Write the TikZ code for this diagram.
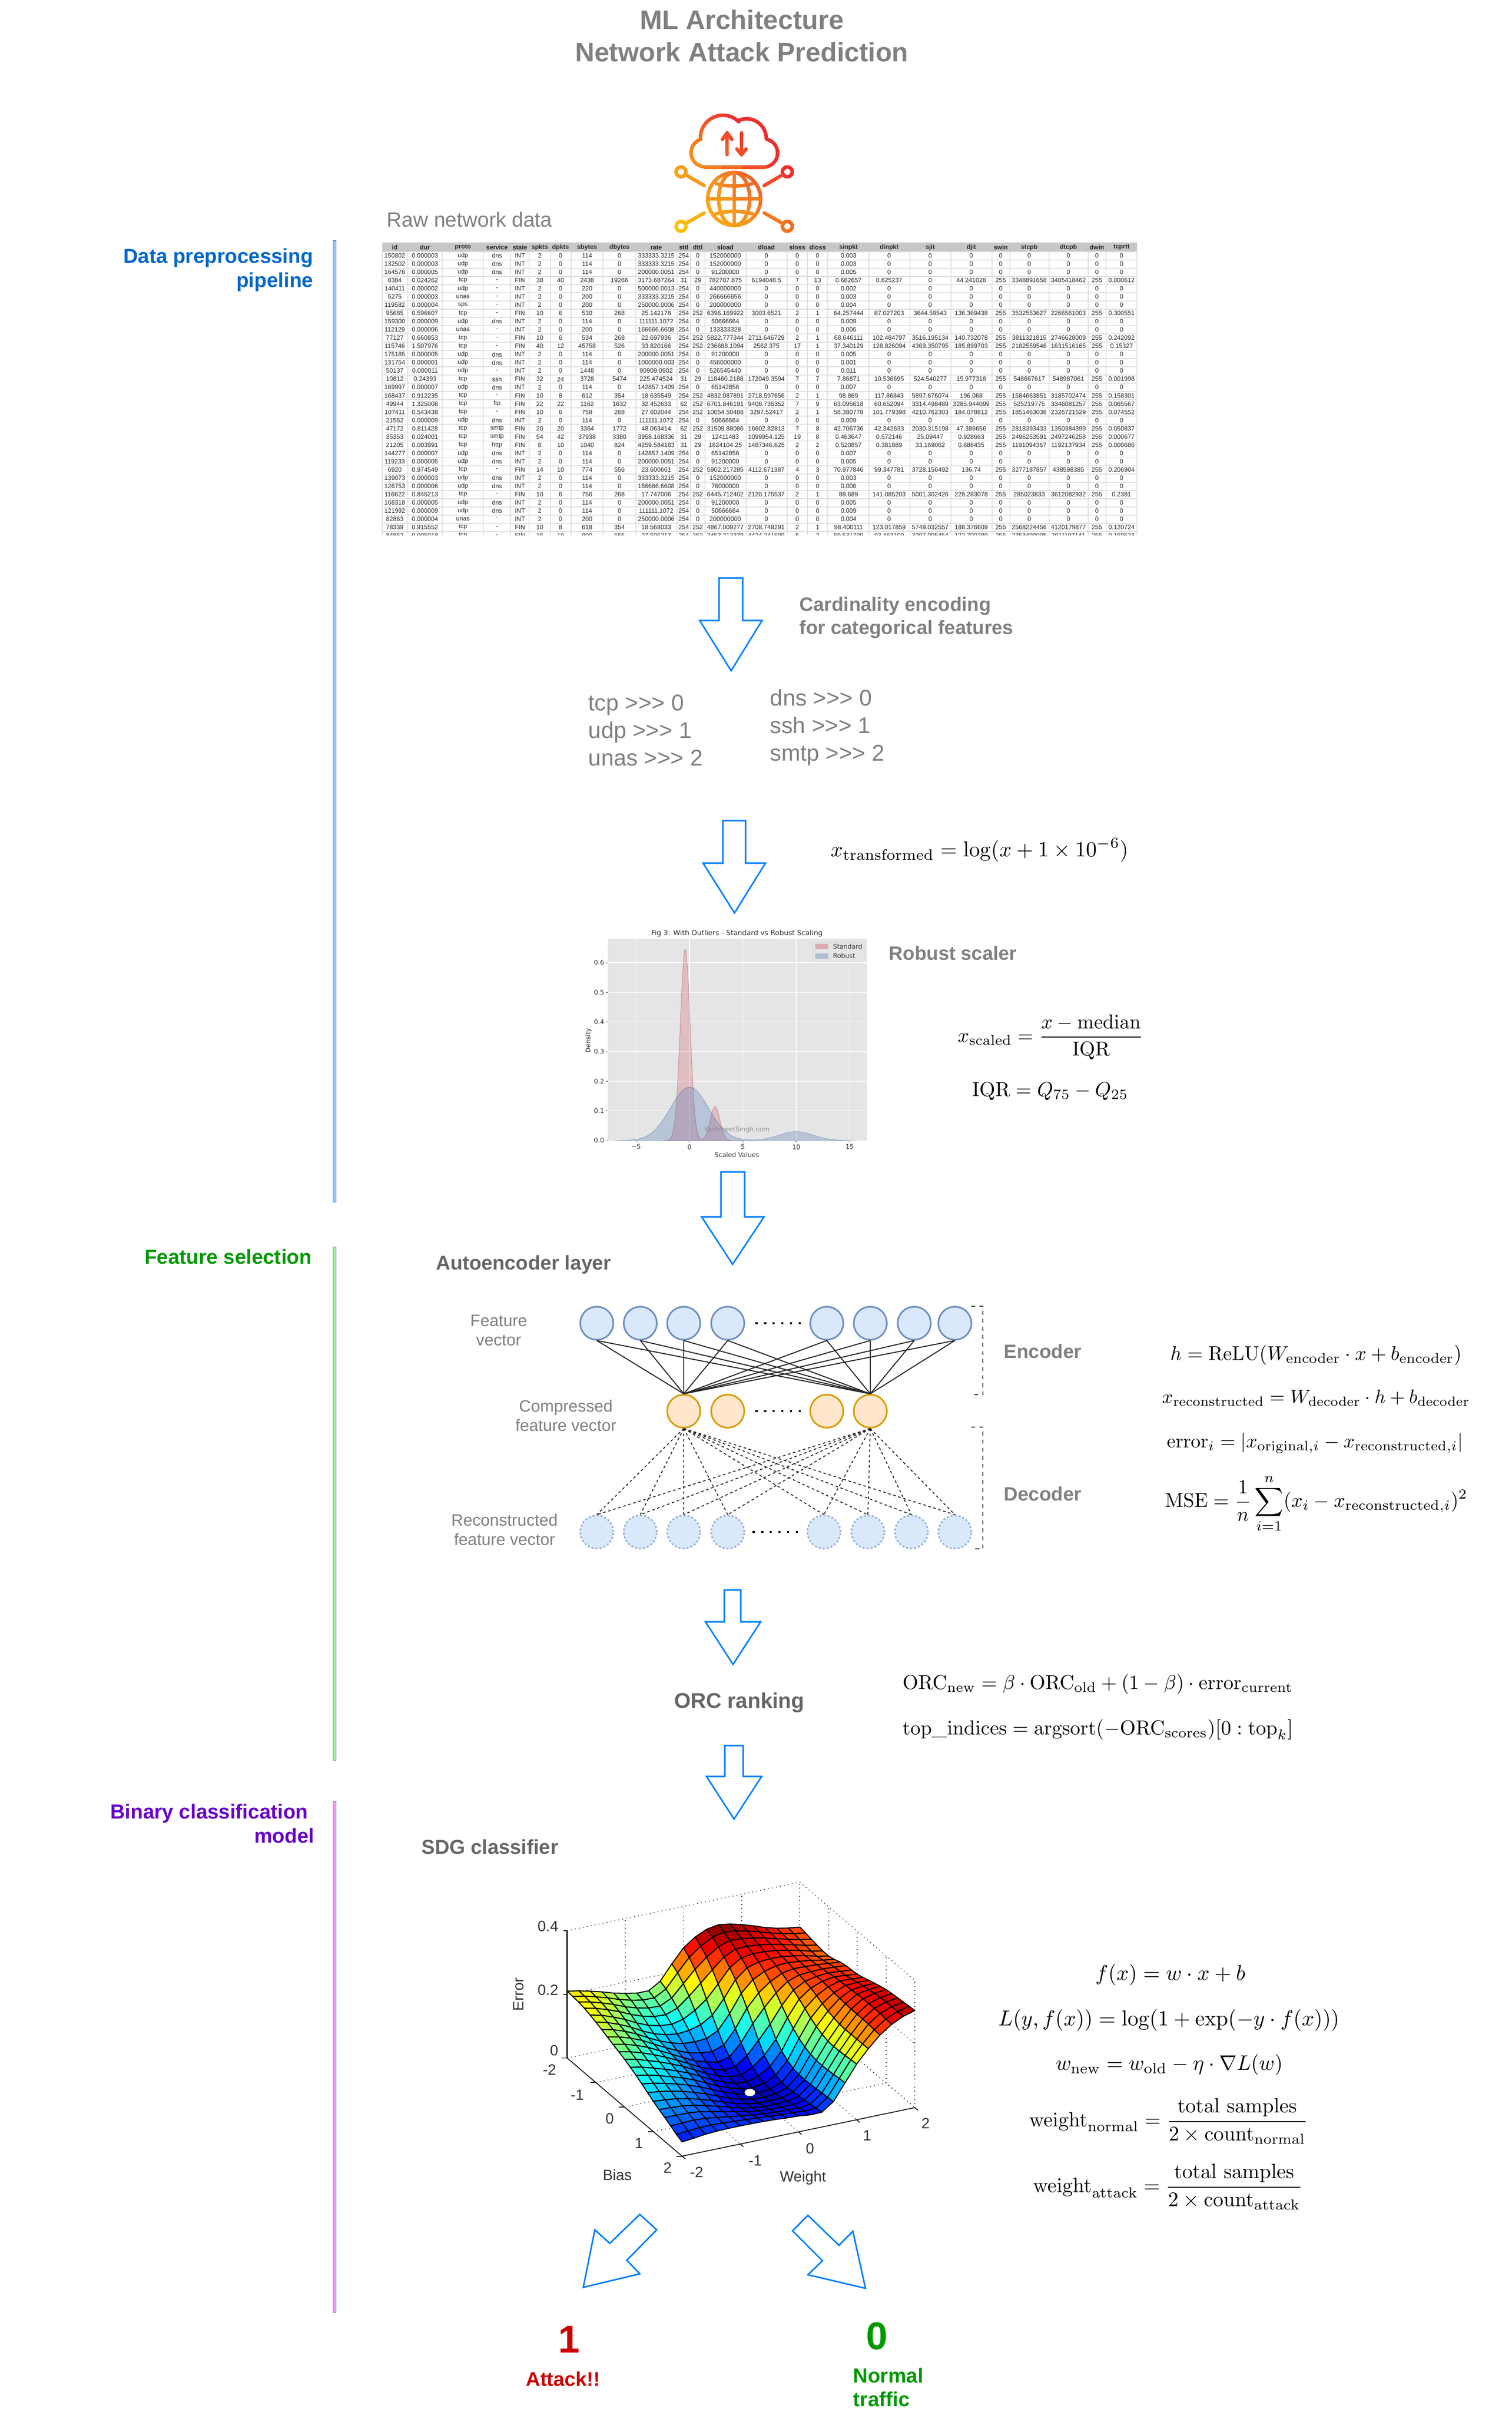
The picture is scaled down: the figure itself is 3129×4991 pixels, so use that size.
\documentclass[tikz,border=0pt]{standalone}
\usepackage[no-math]{fontspec}
\usepackage{amsmath}
\usepackage{graphicx}
\usetikzlibrary{calc}
\newfontfamily\lib{Liberation Sans}
\newfontfamily\djv{DejaVu Sans}
\definecolor{txtgray}{HTML}{808080}
\definecolor{txtdark}{HTML}{666666}
\definecolor{arrowblue}{HTML}{007FFF}
\definecolor{lblblue}{HTML}{0066CC}
\definecolor{lblgreen}{HTML}{009900}
\definecolor{lblpurple}{HTML}{6600CC}
\definecolor{lblred}{HTML}{CC0000}
\definecolor{nodeblue}{HTML}{DAE8FC}
\definecolor{edgeblue}{HTML}{6C8EBF}
\definecolor{nodeorange}{HTML}{FFE6CC}
\definecolor{edgeorange}{HTML}{D79B00}
\definecolor{plotbg}{HTML}{E5E5E5}
\definecolor{stdred}{rgb}{.8,.35,.4}
\definecolor{robblue}{rgb}{.2,.4,.7}
\definecolor{barblue}{HTML}{99CCFF}
\definecolor{bargreen}{HTML}{99FF99}
\definecolor{barpink}{HTML}{FF99FF}
\newcommand{\fm}[2]{\resizebox{\dimexpr#1pt*24/100\relax}{!}{$\displaystyle #2$}}
\tikzset{
  blockarrow/.style={draw=arrowblue,fill=white,line width=.75pt,line join=miter},
  formula/.style={anchor=west,inner sep=0pt,text=black},
  bold40/.style={inner sep=0pt,text=txtgray,font={\lib\bfseries\fontsize{9.6}{11.6}\selectfont}},
  darkhead/.style={inner sep=0pt,text=txtdark,font={\lib\bfseries\fontsize{9.9}{12}\selectfont}},
  plain47/.style={inner sep=0pt,anchor=west,text=txtgray,font={\lib\fontsize{11.3}{13.7}\selectfont}},
  small34/.style={inner sep=0pt,align=center,text=txtgray,font={\lib\fontsize{8.2}{9.6}\selectfont}},
  sidelabel/.style={inner sep=0pt,anchor=east,align=right,font={\lib\bfseries\fontsize{10.1}{12}\selectfont}},
  bar/.style={draw=edgeblue,line width=.25pt},
  neuron/.style={circle,inner sep=0pt,minimum size=16.4pt,line width=.8pt},
  ntop/.style={neuron,draw=edgeblue,fill=nodeblue},
  nmid/.style={neuron,draw=edgeorange,fill=nodeorange},
  nbot/.style={neuron,draw=edgeblue!70,fill=nodeblue,dash pattern=on 1pt off 1pt},
  enc/.style={draw=black!85,line width=.5pt},
  dec/.style={draw=black!85,line width=.45pt,dash pattern=on 1.3pt off 1.3pt},
  dotrow/.style={draw=black,line width=1.1pt,dash pattern=on 1.1pt off 3.2pt},
  brk/.style={draw=black!80,line width=.45pt,dash pattern=on 2pt off 2pt},
  cell/.style={inner sep=0pt,text=black!85,font={\lib\fontsize{3.12}{3.6}\selectfont}},
  cellh/.style={inner sep=0pt,text=black!85,font={\lib\bfseries\fontsize{3.12}{3.6}\selectfont}},
  icon/.style={line width=1.76pt,line cap=round},
  ticklab/.style={inner sep=0pt,text=black!80,font={\djv\fontsize{3.2}{3.8}\selectfont}},
  surflab/.style={inner sep=0pt,text=black!80,font={\lib\fontsize{7.4}{9}\selectfont}},
  griddot/.style={draw=black!80,line width=.4pt,dash pattern=on .4pt off 1.6pt},
  axisline/.style={draw=black!90,line width=.45pt},
}
% ---- gradient icon helpers
\newcommand{\gradseg}[4]{%
  \pgfmathsetmacro{\gs}{max(0,min(1,(0.5*(#1+#3)-0.5*(#2+#4)+328)/1001))}%
  \pgfmathsetmacro{\gr}{0.99-0.06*\gs}%
  \pgfmathsetmacro{\gg}{\gs<0.5?0.76-0.4*\gs:0.56-0.76*(\gs-0.5)}%
  \pgfmathsetmacro{\gb}{0.05+0.14*\gs}%
  \definecolor{gc}{rgb}{\gr,\gg,\gb}%
  \draw[icon,draw=gc] (#1,#2) -- (#3,#4);}
\newcommand{\gradarc}[7]{%
  \foreach \kq in {1,...,#7}{%
    \pgfmathsetmacro{\ta}{#5+(#6-(#5))*(\kq-1)/#7}%
    \pgfmathsetmacro{\tb}{#5+(#6-(#5))*\kq/#7}%
    \pgfmathsetmacro{\xa}{#1+#3*cos(\ta)}%
    \pgfmathsetmacro{\ya}{#2-#4*sin(\ta)}%
    \pgfmathsetmacro{\xb}{#1+#3*cos(\tb)}%
    \pgfmathsetmacro{\yb}{#2-#4*sin(\tb)}%
    \gradseg{\xa}{\ya}{\xb}{\yb}}}
\begin{document}
\begin{tikzpicture}[x=.24pt,y=-.24pt]
\useasboundingbox (0,0) rectangle (3129,4991);
\fill[white] (0,0) rectangle (3129,4991);

% title
\node[inner sep=0pt,align=center,text=txtgray,font={\lib\bfseries\fontsize{13.3}{16.1}\selectfont}] (title) at (1535,74) {ML Architecture\\Network Attack Prediction};

% side bars
\draw[bar,fill=barblue] (689.5,498) rectangle (695.5,2487);
\draw[bar,fill=bargreen] (689.5,2580) rectangle (695.5,3642);
\draw[bar,fill=barpink] (689.5,3727) rectangle (695.5,4785);
\node[sidelabel,text=lblblue] (lab1) at (649,559) {Data preprocessing\\pipeline};
\node[sidelabel,text=lblgreen] (lab2) at (646,2600) {Feature selection};
\node[sidelabel,text=lblpurple] (lab3) at (651,3773) {Binary classification\hspace*{3pt}\\model};

% icon
\begin{scope}[shift={(1250,200)},xscale=.33333,yscale=.33333]
\gradarc{990}{350}{88}{88}{-90}{77}{12}
\gradarc{885}{259}{122}{122}{0}{113}{10}
\gradarc{738}{255}{140}{140}{45}{184}{12}
\gradarc{628}{348}{88}{88}{108}{270}{12}
\gradseg{625}{438}{740}{438}\gradseg{740}{438}{870}{438}\gradseg{870}{438}{990}{438}
\gradseg{764}{360}{764}{290}\gradseg{764}{290}{764}{225}\gradseg{735}{265}{764}{225}\gradseg{793}{265}{764}{225}
\gradseg{853}{225}{853}{290}\gradseg{853}{290}{853}{360}\gradseg{825}{325}{853}{360}\gradseg{882}{325}{853}{360}
\gradarc{808}{635}{165}{165}{0}{360}{28}
\gradarc{808}{635}{97}{165}{0}{360}{24}
\gradseg{808}{470}{808}{635}\gradseg{808}{635}{808}{800}
\gradseg{643}{635}{808}{635}\gradseg{808}{635}{973}{635}
\gradarc{808}{122}{433}{433}{255}{285}{8}
\gradarc{808}{1145}{433}{433}{75}{105}{8}
\gradarc{478}{467}{31}{31}{0}{360}{12}
\gradarc{1138}{467}{31}{31}{0}{360}{12}
\gradarc{478}{805}{31}{31}{0}{360}{12}
\gradarc{1138}{805}{31}{31}{0}{360}{12}
\gradseg{515}{490}{622}{552}
\gradseg{1100}{490}{995}{552}
\gradseg{515}{782}{622}{722}
\gradseg{1100}{782}{995}{722}
\end{scope}

\node[plain47,font={\lib\fontsize{10.25}{13}\selectfont}] (rawlab) at (800,454) {Raw network data};

% table
\fill[black!22] (791,502) rectangle (2353,520);
\draw[black!35,line width=.4pt] (791,502.5) -- (2353,502.5);
\foreach \rr in {0,...,34}{
  \draw[black!12,line width=.45pt] (791,{520.8+17.03*\rr}) -- (2353,{520.8+17.03*\rr});
}
\foreach \vv in {791,844,915,1000,1057,1095,1139,1182,1248,1316,1401,1429,1459,1544,1629,1671,1713,1798,1883,1968,2053,2090,2171,2252,2289,2353}{
  \draw[black!12,line width=.3pt] (\vv,520) -- (\vv,1107);
}
\foreach \vv [count=\cc] in {817,879.5,958,1028.5,1076,1117,1160,1215,1282,1358,1415,1444,1501,1586,1650,1692,1756,1840,1925,2010,2071,2130,2211,2270,2321}{
  \expandafter\xdef\csname cx\cc\endcsname{\vv}
}
\foreach \hh [count=\cc] in {id,dur,proto,service,state,spkts,dpkts,sbytes,dbytes,rate,sttl,dttl,sload,dload,sloss,dloss,sinpkt,dinpkt,sjit,djit,swin,stcpb,dtcpb,dwin,tcprtt}{
  \node[cellh] (th\cc) at (\csname cx\cc\endcsname,512) {\hh};
}
\begin{scope}
\clip (785,495) rectangle (2360,1107);
\foreach \row [count=\rr] in {%
{150802,0.000003,udp,dns,INT,2,0,114,0,333333.3215,254,0,152000000,0,0,0,0.003,0,0,0,0,0,0,0,0},
{132502,0.000003,udp,dns,INT,2,0,114,0,333333.3215,254,0,152000000,0,0,0,0.003,0,0,0,0,0,0,0,0},
{164576,0.000005,udp,dns,INT,2,0,114,0,200000.0051,254,0,91200000,0,0,0,0.005,0,0,0,0,0,0,0,0},
{8384,0.024262,tcp,-,FIN,38,40,2438,19266,3173.687264,31,29,782787.875,6194048.5,7,13,0.682657,0.625237,0,44.241028,255,3348891658,3405418462,255,0.000612},
{140411,0.000002,udp,-,INT,2,0,220,0,500000.0013,254,0,440000000,0,0,0,0.002,0,0,0,0,0,0,0,0},
{5275,0.000003,unas,-,INT,2,0,200,0,333333.3215,254,0,266666656,0,0,0,0.003,0,0,0,0,0,0,0,0},
{119582,0.000004,sps,-,INT,2,0,200,0,250000.0006,254,0,200000000,0,0,0,0.004,0,0,0,0,0,0,0,0},
{95685,0.596607,tcp,-,FIN,10,6,530,268,25.142178,254,252,6396.169922,3003.6521,2,1,64.257444,87.027203,3644.59543,136.369438,255,3532553627,2266561003,255,0.300551},
{159300,0.000009,udp,dns,INT,2,0,114,0,111111.1072,254,0,50666664,0,0,0,0.009,0,0,0,0,0,0,0,0},
{112129,0.000006,unas,-,INT,2,0,200,0,166666.6608,254,0,133333328,0,0,0,0.006,0,0,0,0,0,0,0,0},
{77127,0.660853,tcp,-,FIN,10,6,534,268,22.697936,254,252,5822.777344,2711.646729,2,1,68.646111,102.484797,3516.195134,140.732078,255,3811321815,2746628009,255,0.242092},
{115746,1.507976,tcp,-,FIN,40,12,45758,526,33.820166,254,252,236688.1094,2562.375,17,1,37.340129,128.826094,4369.350795,185.899703,255,2182559546,1631516165,255,0.15327},
{175185,0.000005,udp,dns,INT,2,0,114,0,200000.0051,254,0,91200000,0,0,0,0.005,0,0,0,0,0,0,0,0},
{131754,0.000001,udp,dns,INT,2,0,114,0,1000000.003,254,0,456000000,0,0,0,0.001,0,0,0,0,0,0,0,0},
{50137,0.000011,udp,-,INT,2,0,1448,0,90909.0902,254,0,526545440,0,0,0,0.011,0,0,0,0,0,0,0,0},
{10812,0.24393,tcp,ssh,FIN,32,24,3728,5474,225.474524,31,29,118460.2188,172049.3594,7,7,7.86871,10.536695,524.540277,15.977318,255,548667617,548987061,255,0.001998},
{169997,0.000007,udp,dns,INT,2,0,114,0,142857.1409,254,0,65142856,0,0,0,0.007,0,0,0,0,0,0,0,0},
{168437,0.912235,tcp,-,FIN,10,8,612,354,18.635549,254,252,4832.087891,2718.597656,2,1,98.869,117.86843,5897.676074,196.068,255,1584663851,3185702474,255,0.158301},
{49944,1.325008,tcp,ftp,FIN,22,22,1162,1632,32.452633,62,252,6701.846191,9406.735352,7,9,63.095618,60.652094,3314.498489,3285.944099,255,525219775,3346081257,255,0.065567},
{107411,0.543438,tcp,-,FIN,10,6,758,268,27.602044,254,252,10054.50488,3297.52417,2,1,58.380778,101.779398,4210.762303,184.078812,255,1851463036,2326721529,255,0.074552},
{21562,0.000009,udp,dns,INT,2,0,114,0,111111.1072,254,0,50666664,0,0,0,0.009,0,0,0,0,0,0,0,0},
{47172,0.811428,tcp,smtp,FIN,20,20,3364,1772,48.063414,62,252,31509.88086,16602.82813,7,8,42.706736,42.342633,2030.315198,47.386656,255,2818393433,1350384399,255,0.050837},
{35353,0.024001,tcp,smtp,FIN,54,42,37938,3380,3958.168336,31,29,12411483,1099954.125,19,8,0.463647,0.572146,25.09447,0.928663,255,2496253591,2497246258,255,0.000677},
{21205,0.003991,tcp,http,FIN,8,10,1040,824,4259.584183,31,29,1824104.25,1487346.625,2,2,0.520857,0.381889,33.169062,0.686435,255,1191094367,1192137934,255,0.000686},
{144277,0.000007,udp,dns,INT,2,0,114,0,142857.1409,254,0,65142856,0,0,0,0.007,0,0,0,0,0,0,0,0},
{119233,0.000005,udp,dns,INT,2,0,114,0,200000.0051,254,0,91200000,0,0,0,0.005,0,0,0,0,0,0,0,0},
{6920,0.974549,tcp,-,FIN,14,10,774,556,23.600661,254,252,5902.217285,4112.671387,4,3,70.977846,99.347781,3728.156492,136.74,255,3277187857,438598385,255,0.206904},
{139073,0.000003,udp,dns,INT,2,0,114,0,333333.3215,254,0,152000000,0,0,0,0.003,0,0,0,0,0,0,0,0},
{126753,0.000006,udp,dns,INT,2,0,114,0,166666.6608,254,0,76000000,0,0,0,0.006,0,0,0,0,0,0,0,0},
{116622,0.845213,tcp,-,FIN,10,6,756,268,17.747006,254,252,6445.712402,2120.175537,2,1,89.689,141.085203,5001.302426,228.283078,255,285023833,3612082932,255,0.2381},
{168318,0.000005,udp,dns,INT,2,0,114,0,200000.0051,254,0,91200000,0,0,0,0.005,0,0,0,0,0,0,0,0},
{121992,0.000009,udp,dns,INT,2,0,114,0,111111.1072,254,0,50666664,0,0,0,0.009,0,0,0,0,0,0,0,0},
{82863,0.000004,unas,-,INT,2,0,200,0,250000.0006,254,0,200000000,0,0,0,0.004,0,0,0,0,0,0,0,0},
{78339,0.915552,tcp,-,FIN,10,8,618,354,18.568033,254,252,4867.009277,2708.748291,2,1,98.400111,123.017859,5749.032557,188.376609,255,2568224456,4120179877,255,0.120724},
{84852,0.005018,tcp,-,FIN,16,10,900,556,27.506217,254,252,7453.212379,4424.241699,5,2,59.531799,93.463109,3207.005454,122.700289,255,2353490095,2011197141,255,0.159523}}{%
  \pgfmathsetmacro{\ry}{512+17.03*\rr}
  \foreach \val [count=\cc] in \row {
    \node[cell] (td\rr-\cc) at (\csname cx\cc\endcsname,\ry) {\val};
  }
}
\end{scope}

% block arrows
\draw[blockarrow] (1488,1196) -- (1537,1196) -- (1537,1284) -- (1577,1284) -- (1513,1388) -- (1448,1284) -- (1488,1284) -- cycle;
\draw[blockarrow] (1496,1698) -- (1543,1698) -- (1543,1786) -- (1584,1786) -- (1520,1889) -- (1455,1786) -- (1496,1786) -- cycle;
\draw[blockarrow] (1492,2425) -- (1541,2425) -- (1541,2518) -- (1581,2518) -- (1516,2616) -- (1452,2518) -- (1492,2518) -- cycle;
\draw[blockarrow] (1499,3290) -- (1533,3290) -- (1533,3356) -- (1574,3356) -- (1517,3444) -- (1460,3356) -- (1499,3356) -- cycle;
\draw[blockarrow] (1500,3612) -- (1538,3612) -- (1538,3676) -- (1576,3676) -- (1519,3764) -- (1462,3676) -- (1500,3676) -- cycle;
\draw[blockarrow] (1207,4733) -- (1231,4614) -- (1262,4642) -- (1324,4582) -- (1359,4614) -- (1297,4677) -- (1324,4705) -- cycle;
\draw[blockarrow] (1791,4735) -- (1672,4707) -- (1702,4678) -- (1640,4616) -- (1672,4584) -- (1736,4646) -- (1765,4617) -- cycle;

% encoding text
\node[bold40,anchor=west,align=left] (card) at (1654,1278) {Cardinality encoding\\for categorical features};
\node[plain47,align=left] (enc1) at (1217,1511) {tcp >>> 0\\udp >>> 1\\unas >>> 2};
\node[plain47,align=left] (enc2) at (1593,1505) {dns >>> 0\\ssh >>> 1\\smtp >>> 2};
\node[formula] (f1) at (1718,1759) {\fm{616}{x_{\mathrm{transformed}} = \log(x + 1 \times 10^{-6})}};

% density plot
\begin{scope}[shift={(1426.8,2360)},xscale=22.1,yscale=-613.5]
\fill[plotbg] (-7.64,0) rectangle (16.6,.68);
\foreach \vv in {-5,0,5,10,15}{\draw[white,line width=.35pt] (\vv,0) -- (\vv,.68);
  \draw[black!70,line width=.2pt] (\vv,0) -- ++(0,-.006);}
\foreach \vv in {0.1,0.2,0.3,0.4,0.5,0.6}{\draw[white,line width=.35pt] (-7.64,\vv) -- (16.6,\vv);
  \draw[black!70,line width=.2pt] (-7.64,\vv) -- ++(-.2,0);}
\draw[black!70,line width=.2pt] (-7.64,0) -- ++(-.2,0);
\filldraw[fill=stdred,fill opacity=.28,draw=stdred!85!black,draw opacity=.6,line width=.2pt] plot[domain=-2.5:5,samples=140,variable=\xx] (\xx,{.645*exp(-min(14,(\xx+.4)^2/.42))+.115*exp(-min(14,(\xx-2.4)^2/.4))}) -- cycle;
\filldraw[fill=robblue,fill opacity=.25,draw=robblue!85!black,draw opacity=.5,line width=.2pt] plot[domain=-7:15.5,samples=160,variable=\xx] (\xx,{.18*exp(-min(14,\xx*\xx/6.48))+.03*exp(-min(14,(\xx-10)^2/5))}) -- cycle;
\foreach \vv/\lbl in {-5/−5,0/0,5/5,10/10,15/15}{\node[ticklab,anchor=north] (xt\vv) at (\vv,-.012) {\lbl};}
\foreach \vv in {0.0,0.1,0.2,0.3,0.4,0.5,0.6}{\node[ticklab,anchor=east] (yt\vv) at (-7.95,\vv) {\vv};}
\end{scope}
\node[ticklab,font={\djv\fontsize{3.5}{4}\selectfont}] (ptitle) at (1525,1931) {Fig 3: With Outliers - Standard vs Robust Scaling};
\node[ticklab,rotate=90] (pylab) at (1218,2153) {Density};
\node[ticklab] (pxlab) at (1525,2390) {Scaled Values};
\node[ticklab,text=black!45] (wmark) at (1525,2338) {YashmeetSingh.com};
\draw[fill=plotbg,draw=black!15,line width=.2pt] (1682,1950) rectangle (1788,1990);
\fill[stdred,opacity=.4] (1687,1953) rectangle (1714,1964);
\fill[robblue,opacity=.3] (1687,1973) rectangle (1714,1984);
\node[ticklab,anchor=west] (leg1) at (1723,1959) {Standard};
\node[ticklab,anchor=west] (leg2) at (1723,1978) {Robust};
\node[bold40,anchor=west] (robust) at (1839,1972) {Robust scaler};
\node[formula] (f2) at (1981,2146) {\fm{384}{x_{\mathrm{scaled}} = \frac{x - \mathrm{median}}{\mathrm{IQR}}}};
\node[formula] (f3) at (2011,2258) {\fm{323}{\mathrm{IQR} = Q_{75} - Q_{25}}};

% autoencoder
\node[darkhead,anchor=west] (aelab) at (902,2617) {Autoencoder layer};
\foreach \vv/\nm in {1235/t1,1325/t2,1415/t3,1506/t4,1711/t5,1801/t6,1892/t7,1976/t8}{\node[ntop] (\nm) at (\vv,2738) {};}
\foreach \vv/\nm in {1415/c1,1506/c2,1711/c3,1801/c4}{\node[nmid] (\nm) at (\vv,2920) {};}
\foreach \vv/\nm in {1235/b1,1325/b2,1415/b3,1506/b4,1705/b5,1796/b6,1886/b7,1976/b8}{\node[nbot] (\nm) at (\vv,3170) {};}
\foreach \nm in {t1,t2,t3,t4,t5,t6,t7,t8}{\draw[enc] (\nm.south) -- (c1.north); \draw[enc] (\nm.south) -- (c4.north);}
\foreach \nm in {b1,b2,b3,b4,b5,b6,b7,b8}{\draw[dec] (c1.south) -- (\nm.north); \draw[dec] (c4.south) -- (\nm.north);}
\coordinate (dta) at (1563,2738); \coordinate (dtb) at (1665,2738);
\coordinate (dma) at (1563,2920); \coordinate (dmb) at (1665,2920);
\coordinate (dba) at (1557,3170); \coordinate (dbb) at (1660,3170);
\draw[dotrow] (dta) -- (dtb); \draw[dotrow] (dma) -- (dmb); \draw[dotrow] (dba) -- (dbb);
\draw[brk] (2010,2703) -- (2034,2703) -- (2034,2886) -- (2010,2886);
\draw[brk] (2010,2953) -- (2034,2953) -- (2034,3205) -- (2010,3205);
\node[small34] (lf1) at (1032,2753) {Feature\\vector};
\node[small34] (lf2) at (1171,2929) {Compressed\\feature vector};
\node[small34] (lf3) at (1044,3165) {Reconstructed\\feature vector};
\node[bold40,anchor=west] (lenc) at (2077,2796) {Encoder};
\node[bold40,anchor=west] (ldec) at (2077,3091) {Decoder};
\node[formula] (f4) at (2421,2804) {\fm{603}{h = \mathrm{ReLU}(W_{\mathrm{encoder}} \cdot x + b_{\mathrm{encoder}})}};
\node[formula] (f5) at (2404,2893) {\fm{637}{x_{\mathrm{reconstructed}} = W_{\mathrm{decoder}} \cdot h + b_{\mathrm{decoder}}}};
\node[formula] (f6) at (2414,2986) {\fm{613}{\mathrm{error}_i = |x_{\mathrm{original},i} - x_{\mathrm{reconstructed},i}|}};
\node[formula] (f7) at (2410,3111) {\fm{626}{\mathrm{MSE} = \frac{1}{n}\sum_{i=1}^{n}(x_i - x_{\mathrm{reconstructed},i})^2}};

% ORC
\node[darkhead,anchor=center,font={\lib\bfseries\fontsize{10.6}{12}\selectfont}] (orc) at (1530,3523) {ORC ranking};
\node[formula] (f8) at (1867,3485) {\fm{808}{\mathrm{ORC}_{\mathrm{new}} = \beta \cdot \mathrm{ORC}_{\mathrm{old}} + (1 - \beta) \cdot \mathrm{error}_{\mathrm{current}}}};
\node[formula] (f9) at (1867,3579) {\fm{808}{\mathrm{top\_indices} = \mathrm{argsort}(-\mathrm{ORC}_{\mathrm{scores}})[0 : \mathrm{top}_k]}};
\node[darkhead,anchor=west,font={\lib\bfseries\fontsize{10}{12}\selectfont}] (sdg) at (872,3822) {SDG classifier};

% error surface
\begin{scope}[shift={(1000,3850)},xscale=.638,yscale=.4464]
% box
\foreach \aa in {0.25,0.5,0.75,1}{
  \draw[griddot] ({272+755*\aa},{915-225*\aa}) -- ({272+755*\aa},{325-225*\aa});
  \draw[griddot] ({272+755*\aa},{915-225*\aa}) -- ({272+755*\aa+373},{915-225*\aa+455});
}
\foreach \bb in {0.25,0.5,0.75,1}{
  \draw[griddot] ({1027+373*\bb},{690+455*\bb}) -- ({1027+373*\bb},{100+455*\bb});
}
\foreach \bb in {0.25,0.5,0.75}{
  \draw[griddot] ({272+373*\bb},{915+455*\bb}) -- ({272+373*\bb+755},{915+455*\bb-225});
}
\foreach \zz in {0,295,590}{
  \draw[griddot] (272,{915-\zz}) -- (1027,{690-\zz}) -- (1400,{1145-\zz});
}
% control heights (thousandths)
\foreach \vals [count=\jj from 0] in {
{210,190,165,165,270,318,305,275,259},
{205,180,145,140,220,290,290,270,250},
{190,160,115,100,135,250,275,265,245},
{170,145,100,60,60,180,255,265,260},
{150,125,90,45,25,90,225,270,265},
{125,105,75,35,15,50,190,270,280},
{95,85,60,30,20,45,170,270,294},
{70,70,55,40,35,50,170,270,300},
{45,55,57,55,50,55,175,265,305}}{
  \foreach \vv [count=\ii from 0] in \vals {\expandafter\xdef\csname cz\ii x\jj\endcsname{\vv}}
}
\foreach \nn in {0,...,20}{
  \pgfmathtruncatemacro{\kk}{min(7,int(2*\nn/5+0.001))}
  \pgfmathsetmacro{\ff}{2*\nn/5-\kk}
  \pgfmathsetmacro{\wa}{-0.5*\ff+\ff*\ff-0.5*\ff*\ff*\ff}
  \pgfmathsetmacro{\wb}{1-2.5*\ff*\ff+1.5*\ff*\ff*\ff}
  \pgfmathsetmacro{\wc}{0.5*\ff+2*\ff*\ff-1.5*\ff*\ff*\ff}
  \pgfmathsetmacro{\wd}{-0.5*\ff*\ff+0.5*\ff*\ff*\ff}
  \pgfmathtruncatemacro{\ka}{max(\kk-1,0)}
  \pgfmathtruncatemacro{\kc}{\kk+1}
  \pgfmathtruncatemacro{\kd}{min(\kk+2,8)}
  \expandafter\xdef\csname wa\nn\endcsname{\wa}
  \expandafter\xdef\csname wb\nn\endcsname{\wb}
  \expandafter\xdef\csname wc\nn\endcsname{\wc}
  \expandafter\xdef\csname wd\nn\endcsname{\wd}
  \expandafter\xdef\csname ka\nn\endcsname{\ka}
  \expandafter\xdef\csname kb\nn\endcsname{\kk}
  \expandafter\xdef\csname kc\nn\endcsname{\kc}
  \expandafter\xdef\csname kd\nn\endcsname{\kd}
}
\foreach \ii in {0,...,20}{\foreach \jj in {0,...,8}{
  \edef\expr{\csname wa\ii\endcsname*\csname cz\csname ka\ii\endcsname x\jj\endcsname+\csname wb\ii\endcsname*\csname cz\csname kb\ii\endcsname x\jj\endcsname+\csname wc\ii\endcsname*\csname cz\csname kc\ii\endcsname x\jj\endcsname+\csname wd\ii\endcsname*\csname cz\csname kd\ii\endcsname x\jj\endcsname}
  \pgfmathsetmacro{\rv}{\expr}
  \expandafter\xdef\csname rz\ii x\jj\endcsname{\rv}
}}
\foreach \ii in {0,...,20}{\foreach \nn in {0,...,20}{
  \edef\expr{\csname wa\nn\endcsname*\csname rz\ii x\csname ka\nn\endcsname\endcsname+\csname wb\nn\endcsname*\csname rz\ii x\csname kb\nn\endcsname\endcsname+\csname wc\nn\endcsname*\csname rz\ii x\csname kc\nn\endcsname\endcsname+\csname wd\nn\endcsname*\csname rz\ii x\csname kd\nn\endcsname\endcsname}
  \pgfmathsetmacro{\zv}{\expr}
  \pgfmathsetmacro{\pxv}{272+755*\ii/20+373*\nn/20}
  \pgfmathsetmacro{\pyv}{915-225*\ii/20+455*\nn/20-1.475*\zv}
  \expandafter\xdef\csname ZZ\ii n\nn\endcsname{\zv}
  \expandafter\xdef\csname PX\ii n\nn\endcsname{\pxv}
  \expandafter\xdef\csname PY\ii n\nn\endcsname{\pyv}
}}
\foreach \ii in {19,18,...,0}{\foreach \nn in {0,...,19}{
  \pgfmathtruncatemacro{\ip}{\ii+1}
  \pgfmathtruncatemacro{\np}{\nn+1}
  \edef\expr{(\csname ZZ\ii n\nn\endcsname+\csname ZZ\ip n\nn\endcsname+\csname ZZ\ii n\np\endcsname+\csname ZZ\ip n\np\endcsname)/1280}
  \pgfmathsetmacro{\tv}{\expr}
  \pgfmathsetmacro{\cr}{max(0,min(1,1.5-abs(4*\tv-3)))}
  \pgfmathsetmacro{\cg}{max(0,min(1,1.5-abs(4*\tv-2)))}
  \pgfmathsetmacro{\cb}{max(0,min(1,1.5-abs(4*\tv-1)))}
  \definecolor{cc}{rgb}{\cr,\cg,\cb}
  \edef\cmd{\noexpand\filldraw[fill=cc,draw=black,line width=.5pt,line join=round]
    (\csname PX\ii n\nn\endcsname,\csname PY\ii n\nn\endcsname) --
    (\csname PX\ip n\nn\endcsname,\csname PY\ip n\nn\endcsname) --
    (\csname PX\ip n\np\endcsname,\csname PY\ip n\np\endcsname) --
    (\csname PX\ii n\np\endcsname,\csname PY\ii n\np\endcsname) -- cycle;}
  \cmd
}}
\fill[white] (865,1075) circle (17);
% axes
\draw[axisline,line width=.6pt] (272,325) -- (272,915);
\draw[axisline] (272,915) -- (645,1370) -- (1400,1145);
\foreach \zz in {0,295,590}{\draw[axisline] (272,{915-\zz}) -- ++(-12,0);}
\foreach \bb in {0,0.25,0.5,0.75,1}{\draw[axisline] ({272+373*\bb},{915+455*\bb}) -- ++(-18,0);}
\foreach \aa in {0,0.25,0.5,0.75,1}{\draw[axisline] ({645+755*\aa},{1370-225*\aa}) -- ++(10,12);}
% labels
\node[surflab] (z4) at (210,305) {0.4};
\node[surflab] (z2) at (210,600) {0.2};
\node[surflab] (z0) at (230,880) {0};
\node[surflab,rotate=90] (zl) at (115,620) {Error};
\node[surflab] (b0) at (215,970) {-2};
\node[surflab] (b1l) at (305,1085) {-1};
\node[surflab] (b2l) at (410,1195) {0};
\node[surflab] (b3l) at (505,1310) {1};
\node[surflab] (b4l) at (598,1425) {2};
\node[surflab] (bl) at (435,1458) {Bias};
\node[surflab] (wl) at (1037,1470) {Weight};
\node[surflab] (w0) at (692,1445) {-2};
\node[surflab] (w1) at (882,1390) {-1};
\node[surflab] (w2) at (1060,1335) {0};
\node[surflab] (w3) at (1245,1275) {1};
\node[surflab] (w4) at (1435,1218) {2};
\end{scope}

% classifier formulas
\node[formula] (f10) at (2266,4086) {\fm{310}{f(x) = w \cdot x + b}};
\node[formula] (f11) at (2065,4180) {\fm{706}{L(y, f(x)) = \log(1 + \exp(-y \cdot f(x)))}};
\node[formula] (f12) at (2184,4273) {\fm{470}{w_{\mathrm{new}} = w_{\mathrm{old}} - \eta \cdot \nabla L(w)}};
\node[formula] (f13) at (2129,4389) {\fm{577}{\mathrm{weight}_{\mathrm{normal}} = \frac{\mathrm{total\ samples}}{2 \times \mathrm{count}_{\mathrm{normal}}}}};
\node[formula] (f14) at (2137,4525) {\fm{558}{\mathrm{weight}_{\mathrm{attack}} = \frac{\mathrm{total\ samples}}{2 \times \mathrm{count}_{\mathrm{attack}}}}};

% outcomes
\node[inner sep=0pt,text=lblred,font={\lib\bfseries\fontsize{19.2}{22}\selectfont}] (one) at (1178,4841) {1};
\node[inner sep=0pt,text=lblred,font={\lib\bfseries\fontsize{9.9}{12}\selectfont}] (attack) at (1165,4923) {Attack!!};
\node[inner sep=0pt,text=lblgreen,font={\lib\bfseries\fontsize{19.2}{22}\selectfont}] (zero) at (1815,4834) {0};
\node[inner sep=0pt,anchor=west,align=left,text=lblgreen,font={\lib\bfseries\fontsize{10.1}{11.8}\selectfont}] (normal) at (1765,4940) {Normal\\traffic};
\end{tikzpicture}
\end{document}
